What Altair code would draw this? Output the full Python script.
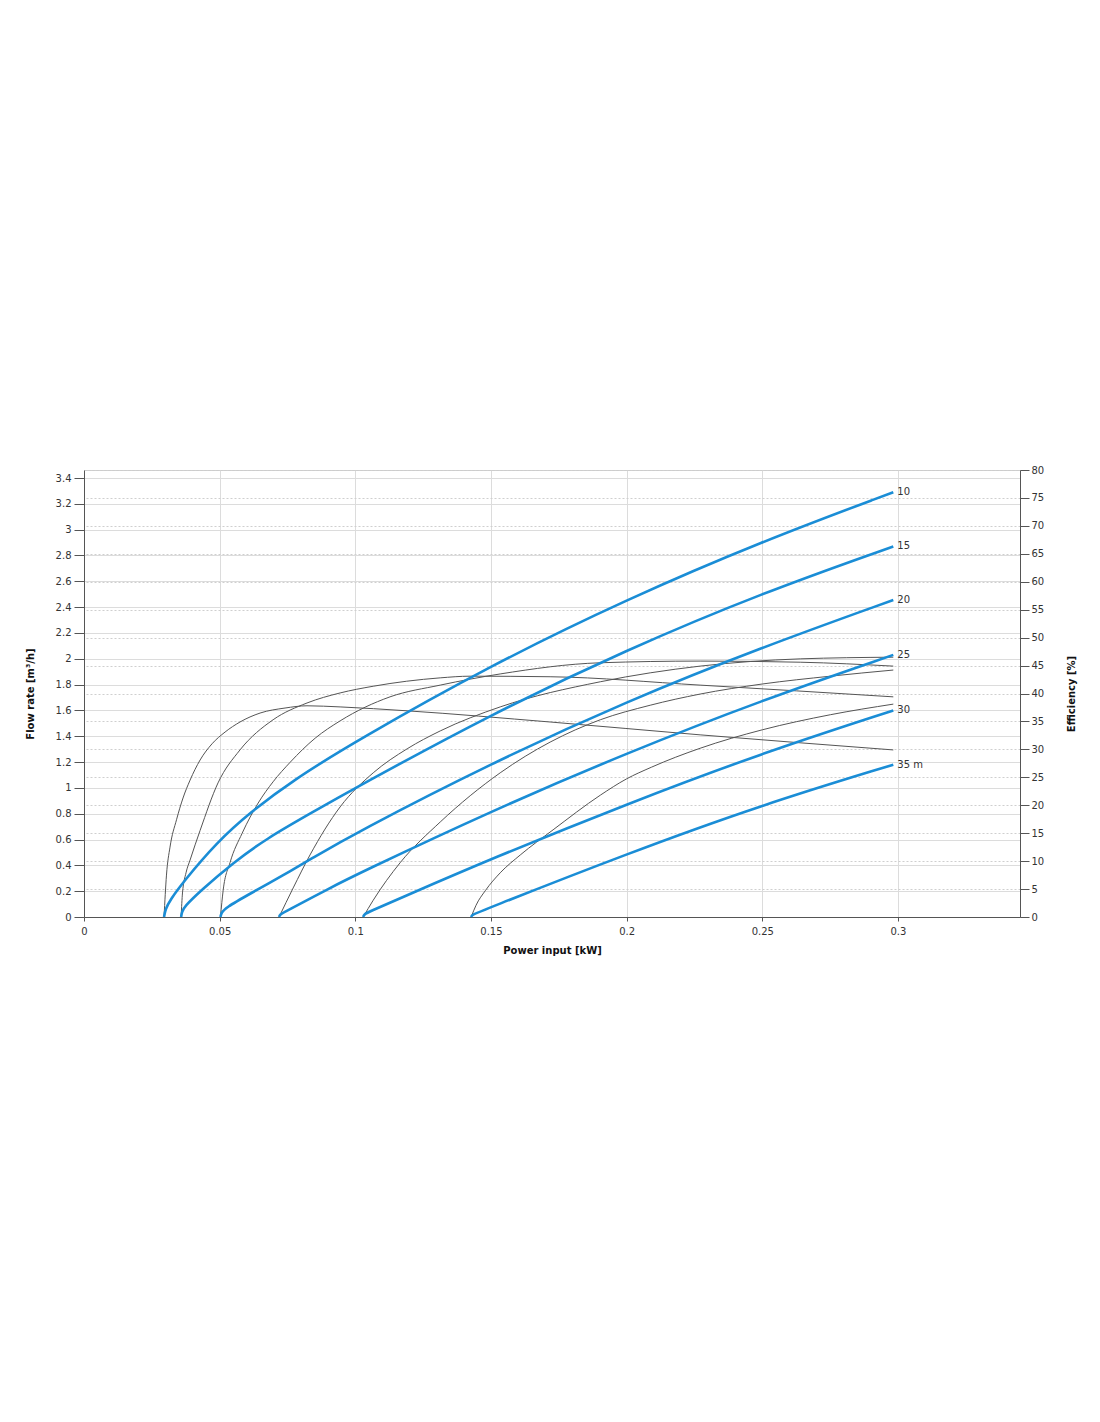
import altair as alt
import pandas as pd

# ---------------- data ----------------
HEADS = ["10", "15", "20", "25", "30", "35"]
LABELS = ["10", "15", "20", "25", "30", "35 m"]

# Flow rate [m3/h] vs power input [kW]
F10_P = [0.0295, 0.0300, 0.0317, 0.0365, 0.0490, 0.0612, 0.0771, 0.1000, 0.1500, 0.2000, 0.2500, 0.2983]
F10_Q = [0.00, 0.06, 0.13, 0.27, 0.58, 0.81, 1.06, 1.36, 1.95, 2.46, 2.91, 3.29]
F15_P = [0.0358, 0.0361, 0.0370, 0.0428, 0.0549, 0.0675, 0.0833, 0.1000, 0.1500, 0.2000, 0.2500, 0.2983]
F15_Q = [0.00, 0.04, 0.08, 0.20, 0.42, 0.61, 0.80, 1.00, 1.57, 2.07, 2.51, 2.87]
F20_P = [0.0503, 0.0506, 0.0520, 0.0612, 0.0735, 0.0833, 0.1000, 0.1500, 0.2000, 0.2500, 0.2983]
F20_Q = [0.00, 0.03, 0.07, 0.18, 0.325, 0.445, 0.65, 1.19, 1.67, 2.09, 2.455]
F25_P = [0.0719, 0.0722, 0.0740, 0.0907, 0.1000, 0.1500, 0.2000, 0.2500, 0.2983]
F25_Q = [0.00, 0.02, 0.04, 0.225, 0.325, 0.82, 1.27, 1.68, 2.03]
F30_P = [0.1029, 0.1032, 0.1050, 0.1165, 0.1500, 0.2000, 0.2500, 0.2983]
F30_Q = [0.00, 0.02, 0.04, 0.145, 0.45, 0.875, 1.27, 1.60]
F35_P = [0.1427, 0.1430, 0.1450, 0.2000, 0.2500, 0.2983]
F35_Q = [0.00, 0.015, 0.035, 0.49, 0.87, 1.18]

# Efficiency [%] vs power input [kW]
E10_P = [0.0295, 0.0304, 0.0317, 0.0341, 0.0365, 0.0391, 0.0428, 0.0472, 0.0520, 0.0575,
         0.0649, 0.0741, 0.0822, 0.0944, 0.1191, 0.1718, 0.2271, 0.2983]
E10_E = [0, 7.5, 12.5, 17.4, 21.3, 24.5, 28.1, 31.0, 33.1, 34.9,
         36.5, 37.4, 37.8, 37.6, 36.9, 34.9, 32.6, 29.9]
E15_P = [0.0358, 0.0363, 0.0376, 0.0391, 0.0428, 0.0494, 0.0575, 0.0697, 0.0822, 0.0944,
         0.1066, 0.1313, 0.1423, 0.1718, 0.2271, 0.2983]
E15_E = [0, 4.3, 7.9, 10.2, 15.5, 24.0, 29.9, 35.3, 38.3, 40.1,
         41.3, 42.8, 43.1, 43.0, 41.5, 39.4]
E20_P = [0.0503, 0.0513, 0.0538, 0.0583, 0.0642, 0.0697, 0.0760, 0.0852, 0.0944, 0.1128,
         0.1313, 0.1534, 0.1903, 0.2271, 0.2640, 0.2983]
E20_E = [0, 4.8, 9.7, 15.0, 20.4, 24.2, 27.7, 32.0, 35.1, 39.4,
         41.5, 43.5, 45.5, 45.8, 45.6, 44.9]
E25_P = [0.0719, 0.0771, 0.0833, 0.0944, 0.1066, 0.1191, 0.1313, 0.1534, 0.1903, 0.2271,
         0.2640, 0.2983]
E25_E = [0, 5.2, 11.1, 19.7, 25.8, 30.1, 33.3, 37.6, 42.1, 44.9, 46.2, 46.5]
E30_P = [0.1029, 0.1066, 0.1165, 0.1313, 0.1534, 0.1718, 0.1903, 0.2087, 0.2271, 0.2500,
         0.2751, 0.2983]
E30_E = [0, 3.0, 9.7, 17.0, 25.8, 31.3, 35.3, 37.9, 39.9, 41.7, 43.1, 44.2]
E35_P = [0.1427, 0.1445, 0.1479, 0.1534, 0.1608, 0.1729, 0.1903, 0.1999, 0.2091, 0.2271,
         0.2500, 0.2751, 0.2983]
E35_E = [0, 2.1, 4.7, 7.9, 11.1, 15.6, 21.8, 24.7, 26.8, 30.2, 33.5, 36.2, 38.1]

X_TICKS = [0, 0.05, 0.1, 0.15, 0.2, 0.25, 0.3]
Y_TICKS = [0, 0.2, 0.4, 0.6, 0.8, 1, 1.2, 1.4, 1.6, 1.8, 2, 2.2, 2.4, 2.6, 2.8, 3, 3.2, 3.4]
E_TICKS = [0, 5, 10, 15, 20, 25, 30, 35, 40, 45, 50, 55, 60, 65, 70, 75, 80]

# ---------------- tables ----------------
flow_sets = [(F10_P, F10_Q), (F15_P, F15_Q), (F20_P, F20_Q),
             (F25_P, F25_Q), (F30_P, F30_Q), (F35_P, F35_Q)]
eff_sets = [(E10_P, E10_E), (E15_P, E15_E), (E20_P, E20_E),
            (E25_P, E25_E), (E30_P, E30_E), (E35_P, E35_E)]

flow_rows, eff_rows, label_rows = [], [], []
for h, lab, (ps, qs), (pe, es) in zip(HEADS, LABELS, flow_sets, eff_sets):
    for i, (p, q) in enumerate(zip(ps, qs)):
        flow_rows.append({"head": h, "i": i, "P": p, "Q": q})
    for i, (p, e) in enumerate(zip(pe, es)):
        eff_rows.append({"head": h, "i": i, "P": p, "E": e})
    label_rows.append({"head": h, "label": lab, "P": ps[-1], "Q": qs[-1]})

flow_df = pd.DataFrame(flow_rows)
eff_df = pd.DataFrame(eff_rows)
label_df = pd.DataFrame(label_rows)

FONT = "DejaVu Sans"
BLUE = "#1a8dd6"

x_scale = alt.Scale(domain=[0, 0.345], nice=False, zero=False)
q_scale = alt.Scale(domain=[0, 3.462], nice=False)
e_scale = alt.Scale(domain=[0, 80], nice=False)

x_enc = alt.X("P:Q", scale=x_scale,
              axis=alt.Axis(values=X_TICKS, format="~g", title="Power input [kW]",
                            grid=True, gridColor="#dcdcdc", tickSize=4, labelPadding=5,
                            labelFlush=False,
                            titlePadding=9, domainColor="#555", tickColor="#555"))

q_enc = alt.Y("Q:Q", scale=q_scale,
              axis=alt.Axis(orient="left", values=Y_TICKS, format="~g", title="Flow rate [m³/h]",
                            grid=True, gridColor="#dcdcdc", labelFlush=False,
                            tickSize=10, labelPadding=3, titlePadding=20, titleAngle=270,
                            domainColor="#555", tickColor="#555"))

eff = alt.Chart(eff_df).mark_line(color="#555555", strokeWidth=1, interpolate="monotone").encode(
    x=x_enc,
    y=alt.Y("E:Q", scale=e_scale,
            axis=alt.Axis(orient="right", values=E_TICKS, title="Efficiency [%]",
                          grid=True, gridColor="#cfcfcf", gridDash=[2, 2], labelFlush=False,
                          tickSize=9, labelPadding=2, titlePadding=33, titleAngle=270,
                          domainColor="#555", tickColor="#555")),
    detail="head:N",
    order="i:Q",
)

blue = alt.Chart(flow_df).mark_line(color=BLUE, strokeWidth=2.6, interpolate="basis").encode(
    x=x_enc,
    y=q_enc,
    detail="head:N",
    order="i:Q",
)

labels = alt.Chart(label_df).mark_text(align="left", baseline="middle", dx=4,
                                       font=FONT, fontSize=10, color="#333").encode(
    x=x_enc,
    y=q_enc,
    text="label:N",
)

chart = alt.layer(eff, alt.layer(blue, labels)).resolve_scale(y="independent").properties(
    width=936,
    height=447,
    padding={"left": 76, "top": 462, "right": 70, "bottom": 60},
    autosize=alt.AutoSizeParams(type="none"),
    background="white",
).configure_view(stroke="#cccccc").configure_axis(
    labelFont=FONT, labelFontSize=10, labelColor="#333",
    titleFont=FONT, titleFontSize=10, titleFontWeight="bold", titleColor="#111",
)

chart.save("out.html", embed_options={"renderer": "svg", "actions": False})
